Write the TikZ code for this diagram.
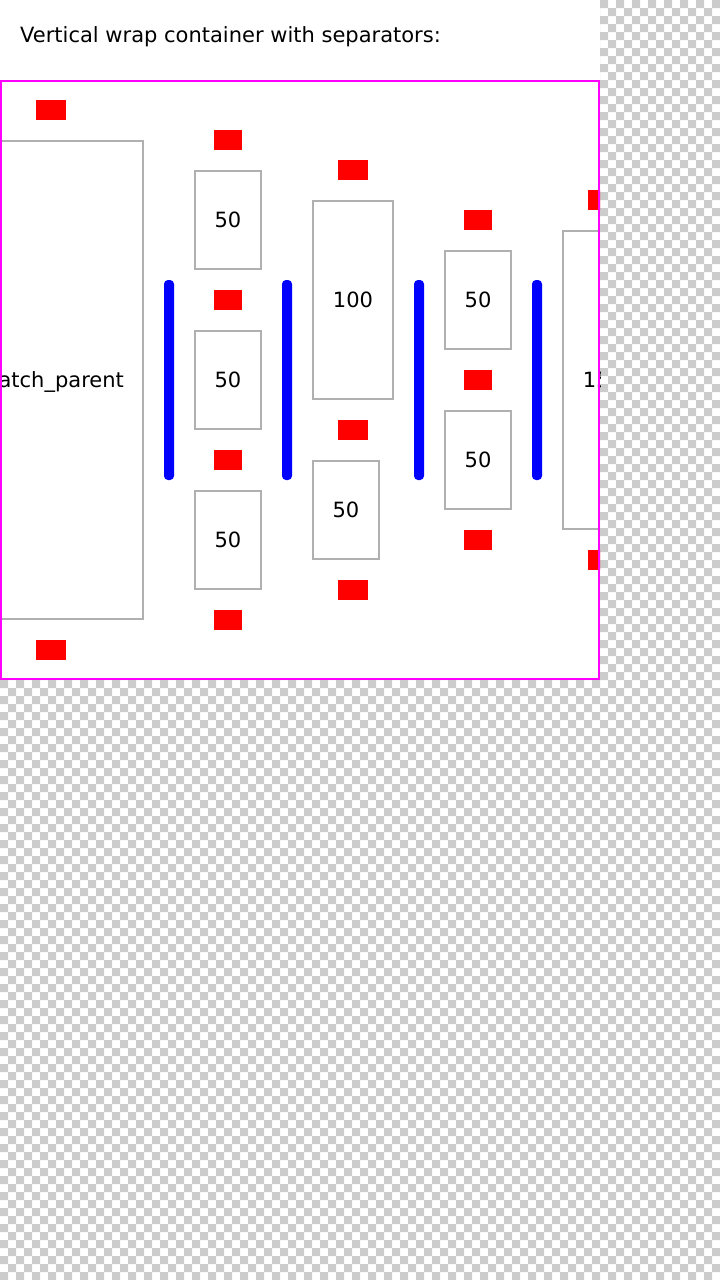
\documentclass[tikz,border=0pt]{standalone}
\usepackage{fontspec}
\setmainfont{DejaVu Sans}
\definecolor{boxgray}{RGB}{176,176,176}
\definecolor{chk}{RGB}{204,204,204}
\definecolor{framemag}{RGB}{255,0,255}
\definecolor{sepblue}{RGB}{0,0,255}
\definecolor{itemred}{RGB}{255,0,0}
\begin{document}
\begin{tikzpicture}[x=1pt,y=-1pt,
  redw/.style={fill=itemred, draw=none, inner sep=0pt, outer sep=0pt, minimum width=30pt, minimum height=20pt},
  redn/.style={redw, minimum width=28pt},
  itembox/.style={draw=boxgray, line width=1.3pt, inner sep=0pt, text height=15pt, text depth=0pt, font=\fontsize{21}{24}\selectfont},
  sepbar/.style={fill=sepblue, draw=none, rounded corners=4pt, minimum width=10pt, minimum height=200pt, inner sep=0pt},
  lbl/.style={font=\fontsize{21}{24}\selectfont, inner sep=0pt}
]
\useasboundingbox (0,0) rectangle (720,1280);
% transparency checkerboard
\fill[chk, even odd rule] foreach \i in {1,3,...,89} {(\i*8,0) rectangle ++(8,1280)} foreach \j in {1,3,...,159} {(0,\j*8) rectangle ++(720,8)};
\fill[white] (0,0) rectangle (600,680);
% title
\node[lbl, anchor=base west] (title) at (20,42) {Vertical wrap container with separators:};
\begin{scope}
\clip (0,80) rectangle (600,680);
% column 1
\node[redw] (r1a) at (51,110) {};
\node[itembox, minimum width=184pt, minimum height=478pt] (c1) at (51,380) {match\_parent};
\node[redw] (r1b) at (51,650) {};
% separator 1
\node[sepbar] (s1) at (169,380) {};
% column 2
\node[redn] (r2a) at (228,140) {};
\node[itembox, minimum width=66pt, minimum height=98pt] (c2a) at (228,220) {50};
\node[redn] (r2b) at (228,300) {};
\node[itembox, minimum width=66pt, minimum height=98pt] (c2b) at (228,380) {50};
\node[redn] (r2c) at (228,460) {};
\node[itembox, minimum width=66pt, minimum height=98pt] (c2c) at (228,540) {50};
\node[redn] (r2d) at (228,620) {};
% separator 2
\node[sepbar] (s2) at (287,380) {};
% column 3
\node[redw] (r3a) at (353,170) {};
\node[itembox, minimum width=80pt, minimum height=198pt] (c3a) at (353,300) {100};
\node[redw] (r3b) at (353,430) {};
\node[itembox, minimum width=66pt, minimum height=98pt] (c3b) at (346,510) {50};
\node[redw] (r3c) at (353,590) {};
% separator 3
\node[sepbar] (s3) at (419,380) {};
% column 4
\node[redn] (r4a) at (478,220) {};
\node[itembox, minimum width=66pt, minimum height=98pt] (c4a) at (478,300) {50};
\node[redn] (r4b) at (478,380) {};
\node[itembox, minimum width=66pt, minimum height=98pt] (c4b) at (478,460) {50};
\node[redn] (r4c) at (478,540) {};
% separator 4
\node[sepbar] (s4) at (537,380) {};
% column 5
\node[redw] (r5a) at (603,200) {};
\node[itembox, minimum width=80pt, minimum height=298pt] (c5) at (603,380) {150};
\node[redw] (r5b) at (603,560) {};
\end{scope}
% frame
\node[draw=framemag, line width=2pt, minimum width=598pt, minimum height=598pt, inner sep=0pt] (frame) at (300,380) {};
\end{tikzpicture}
\end{document}
